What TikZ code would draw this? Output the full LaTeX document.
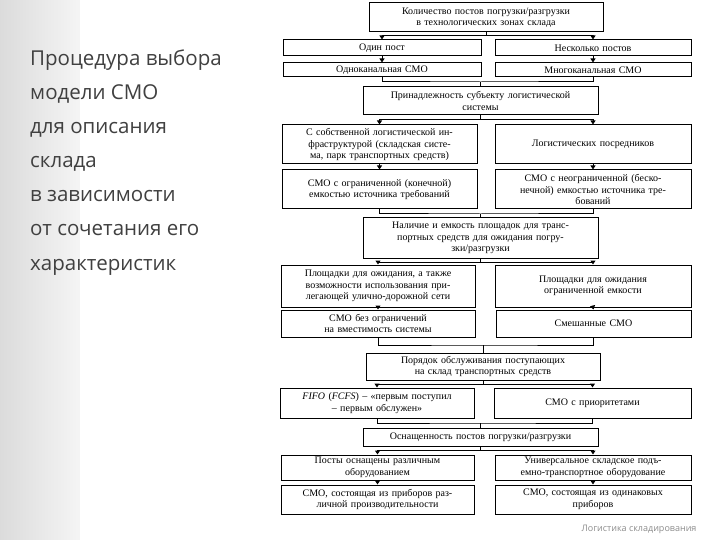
\documentclass[tikz,border=0pt]{standalone}
\usepackage{fontspec}
\setmainfont{Liberation Serif}
\newfontfamily\titlefont{Open Sans}
\usetikzlibrary{arrows.meta}
\begin{document}
\begin{tikzpicture}[x=1pt,y=-1pt,
  box/.style={draw,line width=1pt,fill=white,align=center,font=\fontsize{10}{11.5}\selectfont,inner sep=1pt},
  con/.style={line width=1pt},
  arr/.style={line width=1pt,-{Triangle[length=4pt,width=5pt]}},
  ttl/.style={anchor=base west,font=\titlefont\fontsize{20.5}{24}\selectfont,text=black!75,inner sep=0pt}]
\useasboundingbox (0,0) rectangle (720,540);
\shade[left color=black!14,right color=black!4] (0,0) rectangle (80,540);
\fill[white] (80,0) rectangle (720,540);
\newcommand\bx[6]{\node[box,minimum width={#4-#2},minimum height={#5-#3},text width={#4-#2-6}] (#1) at ({(#2+#4)/2},{(#3+#5)/2}) {#6};}
% title
\node[ttl] (t1) at (30,66) {Процедура выбора};
\node[ttl] (t2) at (30,100) {модели СМО};
\node[ttl] (t3) at (30,134) {для описания};
\node[ttl] (t4) at (30,168) {склада};
\node[ttl] (t5) at (30,202) {в зависимости};
\node[ttl] (t6) at (30,236) {от сочетания его};
\node[ttl] (t7) at (30,270) {характеристик};
\node[anchor=base east,font=\titlefont\fontsize{9}{10}\selectfont,text=black!45] (foot) at (700,531) {Логистика складирования};
% boxes
\bx{p1}{369}{3}{603}{32}{Количество постов погрузки/разгрузки\\в технологических зонах склада}
\bx{a1}{283}{40}{481}{56}{Один пост}
\bx{b1}{495}{40}{691}{56}{Несколько постов}
\bx{a2}{283}{63}{481}{77}{Одноканальная СМО}
\bx{b2}{495}{63}{691}{77}{Многоканальная СМО}
\bx{p2}{363}{87}{598}{115}{Принадлежность субъекту логистической\\системы}
\bx{c1}{282}{125}{477}{164}{С собственной логистической ин-\\фраструктурой (складская систе-\\ма, парк транспортных средств)}
\bx{d1}{495}{125}{691}{164}{Логистических посредников}
\bx{c2}{282}{170}{477}{209}{СМО с ограниченной (конечной)\\емкостью источника требований}
\bx{d2}{495}{170}{691}{209}{СМО с неограниченной (беско-\\нечной) емкостью источника тре-\\бований}
\bx{p3}{363}{218}{598}{258}{Наличие и емкость площадок для транс-\\портных средств для ожидания погру-\\зки/разгрузки}
\bx{e1}{281}{265}{475}{307}{Площадки для ожидания, а также\\возможности использования при-\\легающей улично-дорожной сети}
\bx{f1}{495}{265}{691}{307}{Площадки для ожидания\\ограниченной емкости}
\bx{e2}{281}{310}{475}{337}{СМО без ограничений\\на вместимость системы}
\bx{f2}{496}{310}{691}{337}{Смешанные СМО}
\bx{p4}{366}{353}{600}{380}{Порядок обслуживания поступающих\\на склад транспортных средств}
\bx{g1}{280}{388}{474}{418}{\textit{FIFO} (\textit{FCFS}) -- «первым поступил\\-- первым обслужен»}
\bx{h1}{494}{388}{691}{418}{СМО с приоритетами}
\bx{p5}{363}{428}{598}{446}{Оснащенность постов погрузки/разгрузки}
\bx{i1}{281}{455}{474}{480}{Посты оснащены различным\\оборудованием}
\bx{j1}{495}{455}{691}{480}{Универсальное складское подъ-\\емно-транспортное оборудование}
\bx{i2}{281}{485}{474}{514}{СМО, состоящая из приборов раз-\\личной производительности}
\bx{j2}{495}{485}{691}{514}{СМО, состоящая из одинаковых\\приборов}
% connectors
\foreach \p/\l/\r/\y in {p1/a1/b1/36, p2/c1/d1/120, p3/e1/f1/262, p4/g1/h1/384, p5/i1/j1/450}{
  \coordinate (m\p) at (\p.south |- 0,\y);
  \draw[con] (\p.south) -- (m\p);
  \draw[arr] (m\p) -| (\l.north);
  \draw[arr] (m\p) -| (\r.north);
}
\foreach \u/\v in {a1/a2,b1/b2,c1/c2,d1/d2,e1/e2,f1/f2,i1/i2,j1/j2}{
  \draw[arr] (\u.south) -- (\v.north);
}
\foreach \l/\r/\p/\y in {a2/b2/p2/82, c2/d2/p3/214, e2/f2/p4/345, g1/h1/p5/423}{
  \coordinate (n\p) at (\p.north |- 0,\y);
  \draw[con] (\l.south) |- (n\p) -| (\r.south);
  \draw[con] (n\p) -- (\p.north);
}
\end{tikzpicture}
\end{document}
